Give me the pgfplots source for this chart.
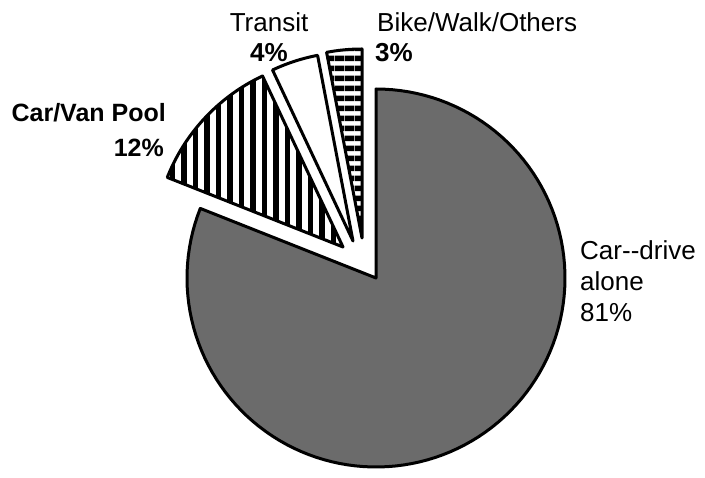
\documentclass[border=0pt]{standalone}
\usepackage{fontspec}
\setmainfont{Liberation Sans}
\usepackage{pgfplots}
\pgfplotsset{compat=1.18}
\usetikzlibrary{patterns.meta}

% shares of commuting modes (percent)
\def\pBike{3}
\def\pTransit{4}
\def\pPool{12}
\def\pDrive{81}

\newcommand{\pieslice}[6]{% cx, cy, r, start angle, end angle, style
  \addplot[#6, domain=#4:#5, samples=120]
    ({#1+#3*cos(x)},{#2+#3*sin(x)}) -- (axis cs:#1,#2) -- cycle;
}

\begin{document}
\begin{tikzpicture}
\pgfmathsetmacro{\aA}{90}
\pgfmathsetmacro{\aB}{\aA+3.6*\pBike}
\pgfmathsetmacro{\aC}{\aB+3.6*\pTransit}
\pgfmathsetmacro{\aD}{\aC+3.6*\pPool}
\pgfmathsetmacro{\aE}{\aD+3.6*\pDrive}
\begin{axis}[
  width=705bp, height=478bp, scale only axis,
  xmin=0, xmax=705, ymin=0, ymax=478,
  hide axis, clip=false,
]
\path (axis cs:0,0) rectangle (axis cs:705,478);
% Car -- drive alone
\pieslice{376}{200}{189}{\aD}{\aE}{draw=black, line width=3bp, line join=round, fill=black!58}
% Car/Van pool
\pieslice{343}{231}{189}{\aC}{\aD}{draw=black, line width=3bp, line join=round, pattern={Lines[angle=90, distance=11.5bp, line width=5.5bp]}, pattern color=black}
% Transit
\pieslice{353}{237}{189}{\aB}{\aC}{draw=black, line width=3bp, line join=round, fill=white}
% Bike/Walk/Others
\pieslice{362}{240}{189}{\aA}{\aB}{draw=black, line width=3bp, line join=round, pattern={Lines[angle=0, distance=10bp, line width=6bp]}, pattern color=black}

\begin{scope}[font=\fontsize{26bp}{30bp}\selectfont]
\node[anchor=base, inner sep=0pt] at (axis cs:269,446) {Transit};
\node[anchor=base, inner sep=0pt] at (axis cs:269,416) {\bfseries 4\%};
\node[anchor=base west, inner sep=0pt] at (axis cs:377,446) {Bike/Walk/Others};
\node[anchor=base west, inner sep=0pt] at (axis cs:375,416) {\bfseries 3\%};
\node[anchor=base east, inner sep=0pt, font=\fontsize{25bp}{30bp}\selectfont\bfseries] at (axis cs:166,356) {Car/Van Pool};
\node[anchor=base east, inner sep=0pt, font=\fontsize{25bp}{30bp}\selectfont\bfseries] at (axis cs:164,321) {12\%};
\node[anchor=base west, inner sep=0pt] at (axis cs:580,218) {Car-{}-drive};
\node[anchor=base west, inner sep=0pt] at (axis cs:580,187) {alone};
\node[anchor=base west, inner sep=0pt] at (axis cs:580,156) {81\%};
\end{scope}
\end{axis}
\end{tikzpicture}
\end{document}
